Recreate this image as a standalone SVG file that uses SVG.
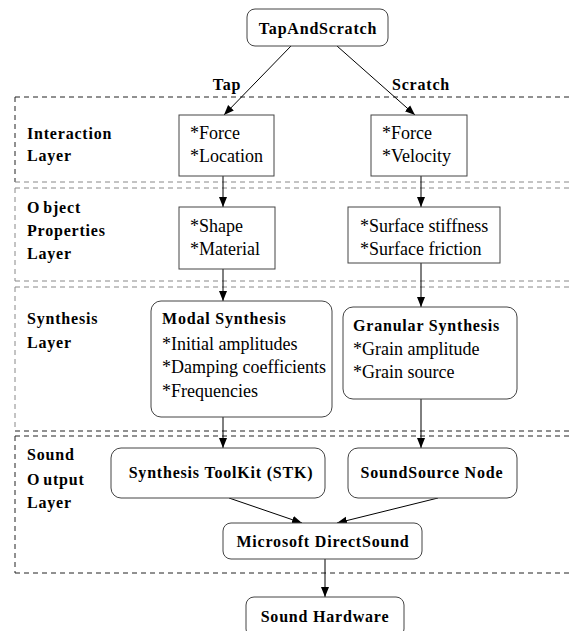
<svg xmlns="http://www.w3.org/2000/svg" width="573" height="631" viewBox="0 0 573 631">
<defs>
<marker id="ah" markerWidth="10" markerHeight="12" refX="10" refY="4" orient="auto" markerUnits="userSpaceOnUse" viewBox="0 0 10 8">
<path d="M0,0 L10,4 L0,8 Z" fill="#000"/>
</marker>
</defs>
<style>
.layer{fill:none;stroke-width:1;stroke-dasharray:5 4}
.dk{stroke:#222}
.gr{stroke:#888}
.box{fill:#fff;stroke:#444;stroke-width:1}
.b{font-family:"Liberation Serif",serif;font-weight:bold;font-size:16px;letter-spacing:0.8px;fill:#000}
.t{font-family:"Liberation Serif",serif;font-size:18px;fill:#000}
.c{text-anchor:middle}
.conn line{stroke:#000;stroke-width:1;marker-end:url(#ah)}
</style>
<rect width="573" height="631" fill="#fff"/>
<g id="layers">
<g id="layer-interaction">
<line class="layer dk" x1="15" y1="97" x2="573" y2="97"/>
<line class="layer dk" x1="15" y1="97" x2="15" y2="182"/>
<line class="layer gr" x1="15" y1="182" x2="573" y2="182"/>
<text class="b" x="27" y="139">Interaction</text>
<text class="b" x="27" y="161">Layer</text>
</g>
<g id="layer-object">
<line class="layer gr" x1="15" y1="188" x2="573" y2="188"/>
<line class="layer gr" x1="15" y1="188" x2="15" y2="281"/>
<line class="layer gr" x1="15" y1="281" x2="573" y2="281"/>
<text class="b" x="27" y="213">O<tspan dx="3">bject</tspan></text>
<text class="b" x="27" y="236">Properties</text>
<text class="b" x="27" y="259">Layer</text>
</g>
<g id="layer-synthesis">
<line class="layer gr" x1="15" y1="287" x2="573" y2="287"/>
<line class="layer gr" x1="15" y1="287" x2="15" y2="431"/>
<line class="layer dk" x1="15" y1="431" x2="573" y2="431"/>
<text class="b" x="27" y="324">Synthesis</text>
<text class="b" x="27" y="348">Layer</text>
</g>
<g id="layer-output">
<line class="layer dk" x1="15" y1="436" x2="573" y2="436"/>
<line class="layer dk" x1="15" y1="436" x2="15" y2="573"/>
<line class="layer dk" x1="15" y1="573" x2="573" y2="573"/>
<text class="b" x="27" y="460">Sound</text>
<text class="b" x="27" y="485">O<tspan dx="3">utput</tspan></text>
<text class="b" x="27" y="508">Layer</text>
</g>
</g>
<g class="conn" id="connectors">
<line x1="291" y1="46" x2="224" y2="115"/>
<line x1="337" y1="46" x2="415" y2="115"/>
<line x1="223" y1="176" x2="223" y2="207"/>
<line x1="421" y1="176" x2="421" y2="207"/>
<line x1="223" y1="269" x2="223" y2="301"/>
<line x1="421" y1="263" x2="421" y2="307"/>
<line x1="223" y1="417" x2="223" y2="448"/>
<line x1="421" y1="399" x2="421" y2="448"/>
<line x1="229" y1="498" x2="302" y2="523"/>
<line x1="438" y1="498" x2="337" y2="523"/>
<line x1="325" y1="559" x2="325" y2="597"/>
<text class="b c" x="227" y="90">Tap</text>
<text class="b c" x="421" y="90">Scratch</text>
</g>
<g id="tapandscratch">
<rect class="box" x="247" y="9" width="141" height="37" rx="8"/>
<text class="b c" x="318" y="34">TapAndScratch</text>
</g>
<g id="tap-interaction">
<rect class="box" x="179" y="115" width="95" height="61"/>
<text class="t" x="190" y="139">*Force</text>
<text class="t" x="190" y="162">*Location</text>
</g>
<g id="scratch-interaction">
<rect class="box" x="371" y="115" width="96" height="61"/>
<text class="t" x="382" y="139">*Force</text>
<text class="t" x="382" y="162">*Velocity</text>
</g>
<g id="tap-object">
<rect class="box" x="179" y="207" width="96" height="62"/>
<text class="t" x="190" y="232">*Shape</text>
<text class="t" x="190" y="255">*Material</text>
</g>
<g id="scratch-object">
<rect class="box" x="348" y="207" width="152" height="56"/>
<text class="t" x="360" y="232">*Surface stiffness</text>
<text class="t" x="360" y="255">*Surface friction</text>
</g>
<g id="modal-synthesis">
<rect class="box" x="151" y="301" width="181" height="116" rx="10"/>
<text class="b" x="162" y="324">Modal Synthesis</text>
<text class="t" x="162" y="350">*Initial amplitudes</text>
<text class="t" x="162" y="373">*Damping coefficients</text>
<text class="t" x="162" y="397">*Frequencies</text>
</g>
<g id="granular-synthesis">
<rect class="box" x="343" y="307" width="174" height="92" rx="10"/>
<text class="b" x="353" y="331">Granular Synthesis</text>
<text class="t" x="353" y="355">*Grain amplitude</text>
<text class="t" x="353" y="378">*Grain source</text>
</g>
<g id="stk">
<rect class="box" x="111" y="448" width="214" height="50" rx="10"/>
<text class="b c" x="221" y="478">Synthesis ToolKit (STK)</text>
</g>
<g id="soundsource">
<rect class="box" x="348" y="448" width="169" height="50" rx="10"/>
<text class="b c" x="432" y="478">SoundSource Node</text>
</g>
<g id="directsound">
<rect class="box" x="223" y="523" width="199" height="36" rx="8"/>
<text class="b c" x="323" y="547">Microsoft DirectSound</text>
</g>
<g id="hardware">
<rect class="box" x="246" y="597" width="158" height="40" rx="8"/>
<text class="b c" x="325" y="622">Sound Hardware</text>
</g>
</svg>
